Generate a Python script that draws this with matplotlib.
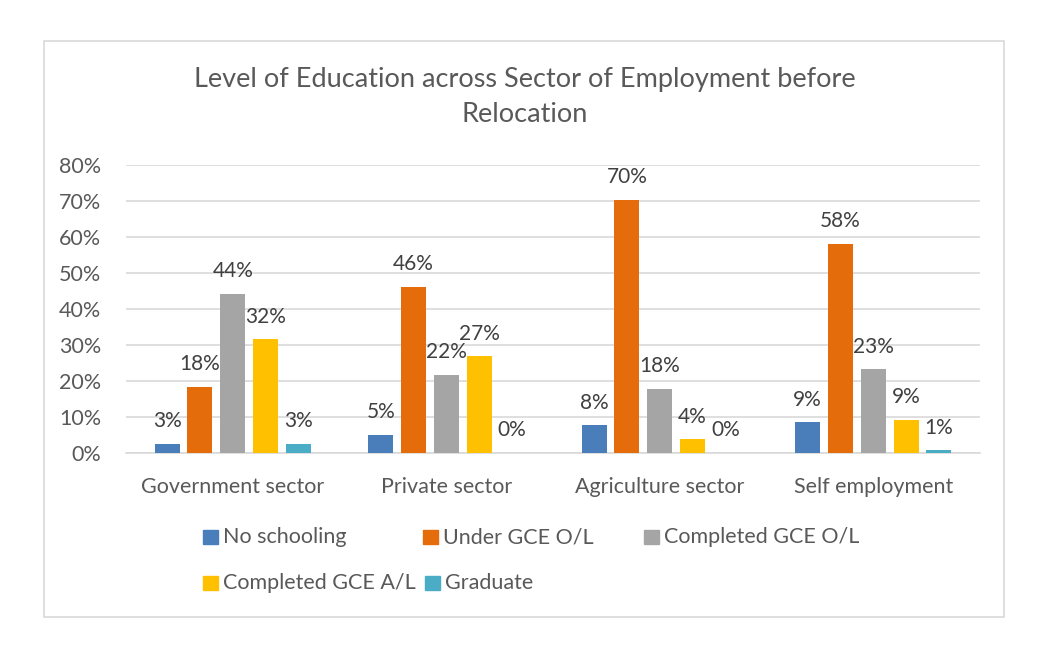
import matplotlib.pyplot as plt
from matplotlib.patches import Rectangle
import numpy as np

plt.rcParams['font.family'] = ['Lato', 'DejaVu Sans']

sectors = ['Government sector', 'Private sector', 'Agriculture sector', 'Self employment']
levels = ['No schooling', 'Under GCE O/L', 'Completed GCE O/L', 'Completed GCE A/L', 'Graduate']
no_schooling = [0.026, 0.051, 0.077, 0.086]
under_ol = [0.184, 0.462, 0.703, 0.581]
completed_ol = [0.443, 0.218, 0.179, 0.233]
completed_al = [0.316, 0.269, 0.038, 0.093]
graduate = [0.026, 0.0, 0.0, 0.008]
series = [no_schooling, under_ol, completed_ol, completed_al, graduate]
colors = ['#4A7EBB', '#E46C0A', '#A5A5A5', '#FFC000', '#4BACC6']
yticks = [0, 0.1, 0.2, 0.3, 0.4, 0.5, 0.6, 0.7, 0.8]

W, H = 1042, 652
fig = plt.figure(figsize=(W / 100, H / 100), dpi=100)
ax = fig.add_axes([126 / W, 1 - 453 / H, (980 - 126) / W, (453 - 165) / H])

text_col = '#595959'
x = np.arange(len(sectors))
step = 0.1535
width = 0.117
for i, (vals, c) in enumerate(zip(series, colors)):
    pos = x + (i - 2) * step
    bars = ax.bar(pos, vals, width, color=c, zorder=3)
    for b, v in zip(bars, vals):
        ax.annotate('{:.0%}'.format(v), (b.get_x() + b.get_width() / 2, v),
                    xytext=(0, 9), textcoords='offset points', ha='center', va='bottom',
                    fontsize=15, color='#404040')

ax.set_xlim(-0.5, 3.5)
ax.set_ylim(0, 0.8)
ax.set_yticks(yticks)
ax.set_yticklabels(['{:.0%}'.format(t) for t in yticks])
ax.set_xticks(x)
ax.set_xticklabels(sectors)
ax.tick_params(length=0, labelsize=15.5, labelcolor=text_col)
ax.tick_params(axis='x', pad=17)
ax.tick_params(axis='y', pad=18)
ax.grid(axis='y', color='#D9D9D9', lw=1.2, zorder=0)
for s in ['top', 'right', 'left']:
    ax.spines[s].set_visible(False)
ax.spines['bottom'].set_color('#D9D9D9')
ax.spines['bottom'].set_linewidth(1.2)

# outer frame
fig.patches.append(Rectangle((44 / W, 1 - 617 / H), (1004 - 44) / W, (617 - 41) / H,
                             transform=fig.transFigure, fill=False, ec='#D9D9D9', lw=1.2))

fig.text(525 / W, 1 - 80 / H, 'Level of Education across Sector of Employment before',
         ha='center', va='center', fontsize=19.5, color=text_col)
fig.text(525 / W, 1 - 114 / H, 'Relocation',
         ha='center', va='center', fontsize=19.5, color=text_col)

# legend
leg_pos = [(203, 537), (423, 537), (644, 537), (203, 583), (425, 583)]
for (lx, ly), lab, c in zip(leg_pos, levels, colors):
    fig.patches.append(Rectangle((lx / W, 1 - (ly + 7) / H), 15 / W, 14 / H,
                                 transform=fig.transFigure, color=c))
    fig.text((lx + 20) / W, 1 - ly / H, lab, ha='left', va='center', fontsize=15.5, color=text_col)

fig.savefig('out.png', dpi=100)
